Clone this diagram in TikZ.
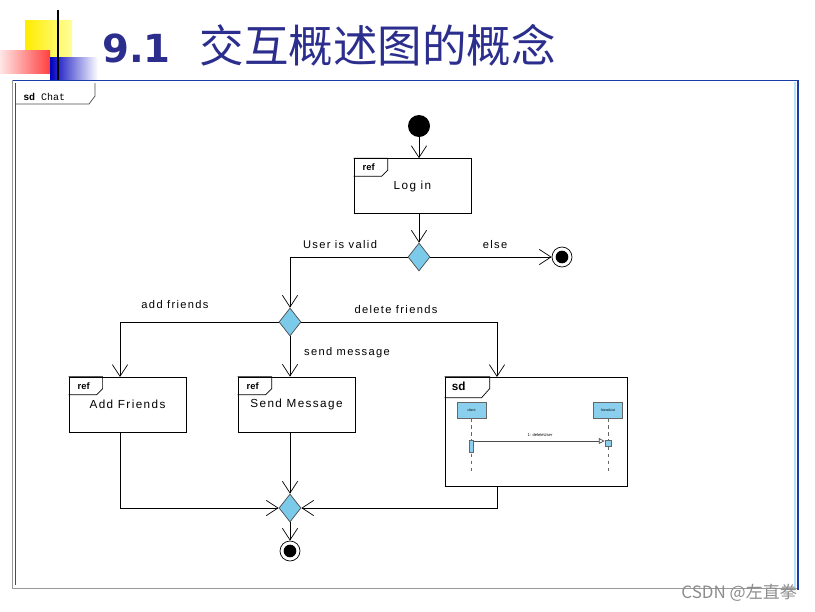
\documentclass[tikz,border=0pt]{standalone}
\usepackage{fontspec}
\setmainfont{Liberation Sans}
\setmonofont{Liberation Mono}
\newfontfamily\cjk{Noto Sans CJK SC}
\newfontfamily\titlefont{DejaVu Sans}
\newfontfamily\labelfont[LetterSpace=12]{Liberation Sans}
\usetikzlibrary{arrows.meta,shapes.geometric}
\definecolor{titleblue}{HTML}{2B2E8C}
\definecolor{slideblue}{HTML}{1A3DAA}
\definecolor{decisionblue}{HTML}{7CCAEA}
\definecolor{lifeblue}{HTML}{8AD0EE}

\begin{document}
\begin{tikzpicture}[x=0.03cm, y=-0.03cm, line width=0.6pt,
  flow/.style={-{Straight Barb[length=10pt,width=13pt]}},
  refbox/.style={draw, rectangle, minimum width=3.51cm, minimum height=1.65cm,
    font=\labelfont\fontsize{10}{12}\selectfont},
  decision/.style={draw=black!70, diamond, fill=decisionblue, minimum width=0.66cm,
    minimum height=0.84cm, inner sep=0pt},
  final/.style={circle, draw, minimum size=0.6cm, inner sep=0pt,
    path picture={\fill (path picture bounding box.center) circle (0.19cm);}},
  guard/.style={font=\labelfont\fontsize{9.5}{11}\selectfont},
  lifehead/.style={draw=black!60, fill=lifeblue, minimum width=0.87cm, minimum height=0.48cm,
    inner sep=0pt, font=\fontsize{3}{3}\selectfont}]
  \useasboundingbox (0,0) rectangle (815,611);
  % slide title decoration
  \shade[left color=yellow!85!orange, right color=yellow!40] (25,20) rectangle (72,57);
  \shade[left color=red!10, right color=red!75] (0,50) rectangle (50,73);
  \shade[left color=blue!75!black, right color=white] (50,57) rectangle (98,79);
  \draw[line width=1.2pt] (58,10) -- (58,80);
  \node[anchor=west, text=titleblue, inner sep=0pt] (title) at (102,45)
    {\titlefont\bfseries\fontsize{33}{36}\selectfont 9.1\hspace{0.75em}{\cjk\mdseries\fontsize{38}{40}\selectfont 交互概述图的概念}};
  % slide frame
  \draw[slideblue, line width=0.8pt] (12,80) -- (798,80);
  \draw[black!40] (12,80) -- (12,588) -- (798,588);
  \draw[slideblue, line width=2.5pt] (798,80) -- (798,590);
  \draw[cyan!30, line width=1pt] (795,82) -- (795,588);
  % sd frame
  \draw[black!70] (15,83) -- (15,585);
  \draw[black!70] (15,104) -- (89,104) -- (95,96) -- (95,83);
  \node[anchor=west, font=\ttfamily\fontsize{8.5}{10}\selectfont] (frame) at (19,97) {\textbf{sd} Chat};
  % activity nodes
  \node[circle, fill, minimum size=0.66cm, inner sep=0pt] (init) at (419,126) {};
  \foreach \n/\x/\y/\t in {login/412.5/186/Log in, addf/127.5/404.5/Add Friends, sendm/296.5/404.5/Send Message}
    \node[refbox] (\n) at (\x,\y) {\t};
  \foreach \n in {login,addf,sendm} {
    \draw (\n.north west) -- ++(34,0) -- ++(0,12) -- ++(-6,6) -- ++(-28,0);
    \node[font=\bfseries\fontsize{8}{9}\selectfont, inner sep=0pt] at ([shift={(15,9)}]\n.north west) {ref};
  }
  \node[decision] (valid) at (419,257) {};
  \node[decision] (choice) at (290,322) {};
  \node[decision] (merge) at (290,508) {};
  \node[final] (stop) at (562,257) {};
  \node[final] (done) at (290,551) {};
  % sd fragment
  \node[draw, rectangle, minimum width=5.46cm, minimum height=3.27cm] (sdbox) at (536,431.5) {};
  \draw (sdbox.north west) -- ++(45,0) -- ++(0,12) -- ++(-8,9) -- ++(-37,0);
  \node[font=\bfseries\fontsize{10}{11}\selectfont, inner sep=0pt] at ([shift={(14,10)}]sdbox.north west) {sd};
  \node[lifehead] (client) at (471.5,410) {client};
  \node[lifehead] (flist) at (608,410) {friendList};
  \draw[black!60, dashed] (client.south) -- (471.5,472);
  \draw[black!60, dashed] (flist.south) -- (608,472);
  \node[draw=black!60, fill=lifeblue, minimum width=0.13cm, minimum height=0.36cm, inner sep=0pt] (actl) at (471.5,446) {};
  \node[draw=black!60, fill=lifeblue, minimum size=0.18cm, inner sep=0pt] (actr) at (608,443.5) {};
  \draw[black!70, -{Triangle[open, length=5pt, width=5pt]}] (actl.east |- 0,441) -- (actr.west |- 0,441);
  \node[font=\fontsize{3.5}{4}\selectfont] (msg) at (540,435) {1: deleteUser};
  \coordinate (sdin) at (497,377);
  \coordinate (sdout) at (497,486);
  \coordinate (addin) at (120,377);
  \coordinate (addout) at (120,432);
  % flows
  \draw[flow] (init) -- (init |- login.north);
  \draw[flow] (valid |- login.south) -- (valid.north);
  \draw[flow] (valid.east) -- (stop);
  \draw[flow] (valid.west) -| (choice.north);
  \draw[flow] (choice.west) -| (addin);
  \draw[flow] (choice.south) -- (sendm.north -| choice);
  \draw[flow] (choice.east) -| (sdin);
  \draw[flow] (addout) |- (merge.west);
  \draw[flow] (sendm.south -| merge) -- (merge.north);
  \draw[flow] (sdout) |- (merge.east);
  \draw[flow] (merge.south) -- (done);
  % guards
  \node[guard] (g1) at (340,245) {User is valid};
  \node[guard] (g2) at (495,245) {else};
  \node[guard] (g3) at (175,305) {add friends};
  \node[guard] (g4) at (396,310) {delete friends};
  \node[guard] (g5) at (347,353) {send message};
  % watermark
  \node[anchor=east, text=black!45, font=\cjk\fontsize{14.5}{16}\selectfont] (mark) at (801,593) {CSDN @左直拳};
\end{tikzpicture}
\end{document}
